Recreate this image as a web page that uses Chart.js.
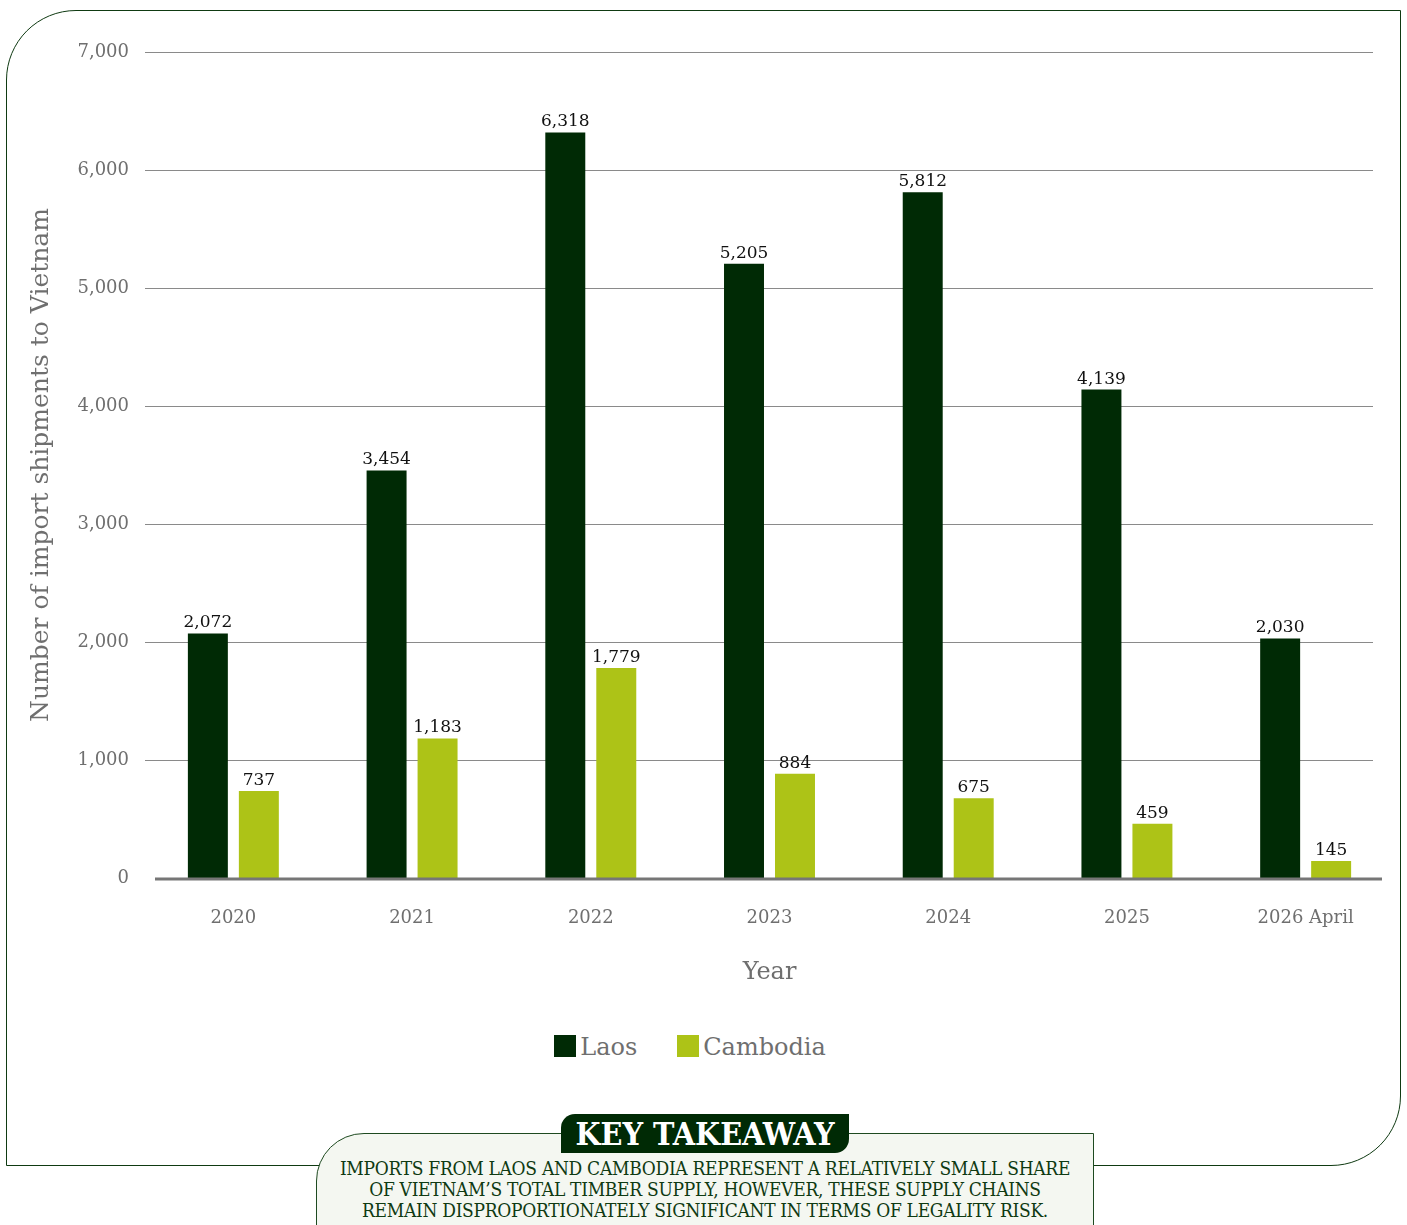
<!DOCTYPE html>
<html>
<head>
<meta charset="utf-8">
<script src="https://cdn.jsdelivr.net/npm/chart.js@4.4.0/dist/chart.umd.min.js"></script>
<style>
  html, body { margin: 0; padding: 0; background: #fff; }
  body { width: 1407px; height: 1225px; position: relative; overflow: hidden; font-family: "DejaVu Serif", serif; }
  .frame {
    position: absolute; left: 6px; top: 10px; width: 1395px; height: 1156px;
    border: 1px solid #0f3a12; border-radius: 70px 0 70px 0; box-sizing: border-box;
  }
  .wrap { position: absolute; left: 0; top: 0; width: 1407px; height: 1000px; }
  .legend {
    position: absolute; top: 1033px; left: 0; width: 1380px; text-align: center;
    font-size: 24px; color: #6f6f6f;
  }
  .legend span.item { display: inline-block; margin: 0 20px; }
  .legend i { display: inline-block; width: 22px; height: 22px; vertical-align: -2px; margin-right: 4px; }
  .panel {
    position: absolute; left: 316px; top: 1133px; width: 778px; height: 140px;
    background: #f4f7f1; border: 1px solid #1e4a20; border-radius: 48px 0 48px 0; box-sizing: border-box;
  }
  .panel p {
    margin: 0; position: absolute; top: 24px; left: 0; width: 100%; text-align: center;
    font-family: "DejaVu Serif Condensed", "DejaVu Serif", serif; font-stretch: condensed;
    font-size: 19px; line-height: 21px; color: #0f3a12; letter-spacing: -0.3px;
  }
  .badge {
    position: absolute; left: 561px; top: 1114px; width: 288px; height: 39px;
    background: #002a05; color: #fff; border-radius: 14px 0 14px 0;
    font-family: "DejaVu Serif Condensed", "DejaVu Serif", serif; font-stretch: condensed;
    font-weight: bold; font-size: 32px; line-height: 40px; text-align: center;
  }
</style>
</head>
<body>
<div class="frame"></div>
<div class="wrap"><canvas id="chart"></canvas></div>
<div class="legend" id="legend"></div>
<div class="panel"><p>IMPORTS FROM LAOS AND CAMBODIA REPRESENT A RELATIVELY SMALL SHARE<br>OF VIETNAM’S TOTAL TIMBER SUPPLY, HOWEVER, THESE SUPPLY CHAINS<br>REMAIN DISPROPORTIONATELY SIGNIFICANT IN TERMS OF LEGALITY RISK.</p></div>
<div class="badge">KEY TAKEAWAY</div>
<script>
// datos
const years = ['2020', '2021', '2022', '2023', '2024', '2025', '2026 April'];
const laos = [2072, 3454, 6318, 5205, 5812, 4139, 2030];
const cambodia = [737, 1183, 1779, 884, 675, 459, 145];
const seriesNames = ['Laos', 'Cambodia'];
const seriesColors = ['#002a05', '#adc317'];

const FONT = '"DejaVu Serif", serif';
const GREY = '#6f6f6f';

// leyenda html
document.getElementById('legend').innerHTML = seriesNames.map((n, i) =>
  `<span class="item"><i style="background:${seriesColors[i]}"></i>${n}</span>`).join('');

// lineas de la grilla y eje cero
const gridPlugin = {
  id: 'grid',
  beforeDatasetsDraw(chart) {
    const { ctx, chartArea, scales: { y } } = chart;
    ctx.save();
    y.ticks.forEach(t => {
      if (t.value === 0) return;
      const py = Math.round(y.getPixelForValue(t.value)) + 0.5;
      ctx.beginPath();
      ctx.strokeStyle = '#8a8a8a';
      ctx.lineWidth = 1;
      ctx.moveTo(chartArea.left + 1, py);
      ctx.lineTo(chartArea.right - 22, py);
      ctx.stroke();
    });
    ctx.restore();
  },
  afterDatasetsDraw(chart) {
    const { ctx, chartArea, scales: { y } } = chart;
    const py = y.getPixelForValue(0) + 1;
    ctx.save();
    ctx.strokeStyle = '#767676';
    ctx.lineWidth = 3;
    ctx.beginPath();
    ctx.moveTo(chartArea.left + 11, py);
    ctx.lineTo(chartArea.right - 13, py);
    ctx.stroke();
    // etiquetas de valores
    ctx.fillStyle = '#111';
    ctx.font = '17px ' + FONT;
    ctx.textAlign = 'center';
    ctx.textBaseline = 'bottom';
    chart.data.datasets.forEach((ds, i) => {
      chart.getDatasetMeta(i).data.forEach((bar, j) => {
        ctx.fillText(ds.data[j].toLocaleString('en-US'), bar.x, bar.y - 2);
      });
    });
    ctx.restore();
  }
};

new Chart(document.getElementById('chart'), {
  type: 'bar',
  data: {
    labels: years,
    datasets: [
      { label: seriesNames[0], data: laos, backgroundColor: seriesColors[0] },
      { label: seriesNames[1], data: cambodia, backgroundColor: seriesColors[1] }
    ]
  },
  options: {
    responsive: true,
    maintainAspectRatio: false,
    animation: false,
    categoryPercentage: 0.5706,
    barPercentage: 0.784,
    layout: { padding: { top: 52, right: 12, left: 0, bottom: 0 } },
    plugins: { legend: { display: false }, tooltip: { enabled: false } },
    scales: {
      x: {
        grid: { display: false },
        border: { display: false },
        ticks: { color: GREY, font: { family: FONT, size: 18 }, padding: 22 },
        title: { display: true, text: 'Year', color: GREY, font: { family: FONT, size: 24 }, padding: { top: 5, bottom: 13 } },
        afterFit(s) { s.height = 122; }
      },
      y: {
        min: 0, max: 7000,
        grid: { display: false },
        border: { display: false },
        ticks: { stepSize: 1000, color: GREY, font: { family: FONT, size: 18 }, padding: 7,
          callback: v => v.toLocaleString('en-US') },
        title: { display: true, text: 'Number of import shipments to Vietnam', color: GREY,
          font: { family: FONT, size: 25 }, padding: { top: 26, bottom: 0 } },
        afterFit(s) { s.width = 144; }
      }
    }
  },
  plugins: [gridPlugin]
});
</script>
</body>
</html>
